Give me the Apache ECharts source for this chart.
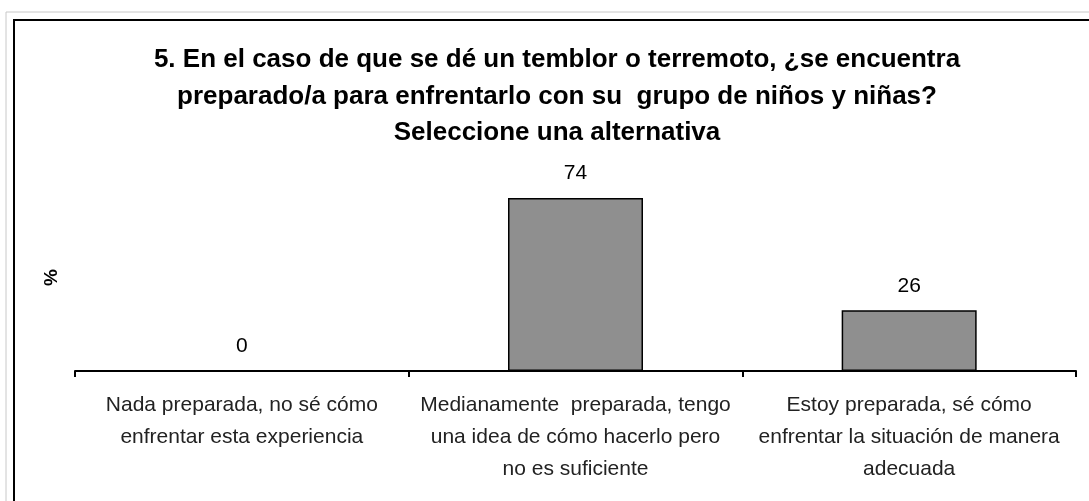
<!DOCTYPE html>
<html>
<head>
<meta charset="utf-8">
<script src="https://cdn.jsdelivr.net/npm/echarts@6/dist/echarts.min.js"></script>
<style>
  html, body { margin: 0; padding: 0; background: #fff; }
  #chart { width: 1089px; height: 501px; }
</style>
</head>
<body>
<div id="chart"></div>
<script>
var categories = [
    'Nada preparada, no sé cómo\nenfrentar esta experiencia',
    'Medianamente  preparada, tengo\nuna idea de cómo hacerlo pero\nno es suficiente',
    'Estoy preparada, sé cómo\nenfrentar la situación de manera\nadecuada'
];
var values = [0, 74, 26];

var chart = echarts.init(document.getElementById('chart'));

var option = {
    animation: false,
    backgroundColor: '#fff',
    title: {
        text: '5. En el caso de que se dé un temblor o terremoto, ¿se encuentra\npreparado/a para enfrentarlo con su  grupo de niños y niñas?\nSeleccione una alternativa',
        left: 552,
        top: 37,
        textAlign: 'center',
        textStyle: {
            fontFamily: 'Liberation Sans',
            fontSize: 26,
            fontWeight: 'bold',
            color: '#000',
            lineHeight: 36.5
        }
    },
    graphic: [
        {
            type: 'rect',
            shape: { x: 6, y: 12, width: 1100, height: 520 },
            style: { fill: null, stroke: '#c8c8c8', lineWidth: 1 }
        },
        {
            type: 'rect',
            shape: { x: 14, y: 20, width: 1100, height: 520 },
            style: { fill: null, stroke: '#000', lineWidth: 2 }
        }
    ],
    grid: { left: 75, right: 13, top: 184, bottom: 130 },
    xAxis: {
        type: 'category',
        data: categories,
        axisLine: { lineStyle: { color: '#000', width: 2 } },
        axisTick: { show: true, alignWithLabel: false, length: 6, lineStyle: { color: '#000', width: 2 } },
        axisLabel: {
            interval: 0,
            margin: 18,
            fontFamily: 'Liberation Sans',
            fontSize: 21,
            color: '#222',
            lineHeight: 32
        }
    },
    yAxis: {
        type: 'value',
        min: 0,
        max: 80,
        name: '%',
        nameLocation: 'middle',
        nameRotate: 90,
        nameGap: 14,
        nameTextStyle: { fontFamily: 'Liberation Sans', fontSize: 19, fontWeight: 'bold', color: '#000' },
        axisLine: { show: false },
        axisTick: { show: false },
        axisLabel: { show: false },
        splitLine: { show: false }
    },
    series: [{
        type: 'bar',
        data: values,
        barWidth: 135,
        itemStyle: { color: '#8f8f8f', borderColor: '#000', borderWidth: 1.5 },
        label: {
            show: true,
            position: 'top',
            distance: 14,
            fontFamily: 'Liberation Sans',
            fontSize: 21,
            color: '#000'
        }
    }]
};

chart.setOption(option);
</script>
</body>
</html>
